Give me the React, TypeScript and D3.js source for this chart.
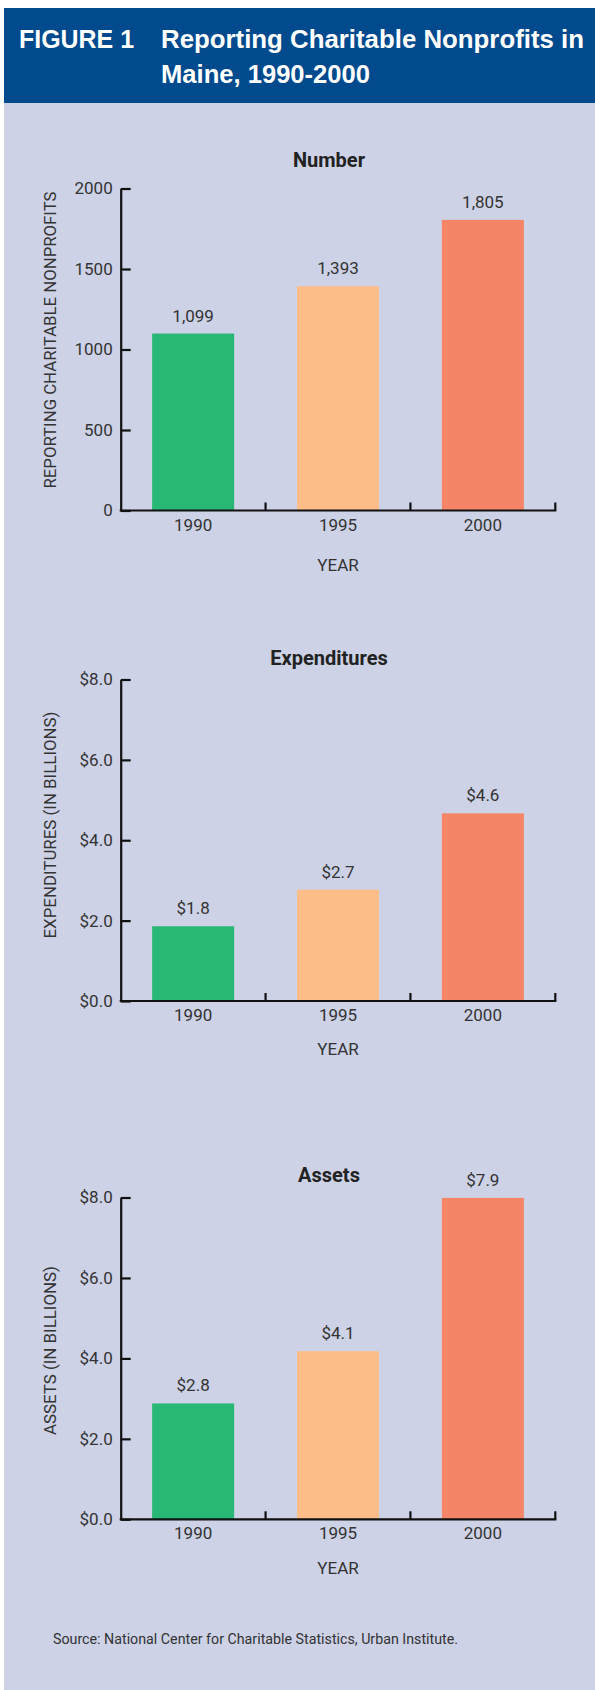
import * as d3 from 'd3';
import React, { FC, useEffect, useRef } from 'react';

const years = ['1990', '1995', '2000'];

const numberValues = [1099, 1393, 1805];
const numberLabels = ['1,099', '1,393', '1,805'];
const numberTicks = [0, 500, 1000, 1500, 2000];

const expenditureValues = [1.86, 2.77, 4.67];
const expenditureLabels = ['$1.8', '$2.7', '$4.6'];

const assetValues = [2.88, 4.18, 7.99];
const assetLabels = ['$2.8', '$4.1', '$7.9'];

const dollarTicks = [0, 2, 4, 6, 8];

const barColors = ['#28b774', '#fcbd88', '#f48667'];

const WIDTH = 595;
const HEIGHT = 1690;
const TEXT = '#333333';
const FONT = 'Roboto, "Liberation Sans", sans-serif';
const NARROW = '"Liberation Sans Narrow", "Arial Narrow", "Liberation Sans", sans-serif';

interface Panel {
  title: string;
  titleY: number;
  yLabel: string;
  yLabelLength: number;
  yLabelCenter: number;
  top: number;
  bottom: number;
  yearY: number;
  values: number[];
  labels: string[];
  ticks: number[];
  tickFormat: (d: number) => string;
}

const panels: Panel[] = [
  {
    title: 'Number',
    titleY: 167,
    yLabel: 'REPORTING CHARITABLE NONPROFITS',
    yLabelLength: 297,
    yLabelCenter: 340,
    top: 188.5,
    bottom: 510.5,
    yearY: 571,
    values: numberValues,
    labels: numberLabels,
    ticks: numberTicks,
    tickFormat: (d) => `${d}`
  },
  {
    title: 'Expenditures',
    titleY: 665,
    yLabel: 'EXPENDITURES (IN BILLIONS)',
    yLabelLength: 227,
    yLabelCenter: 825,
    top: 679.5,
    bottom: 1001,
    yearY: 1055,
    values: expenditureValues,
    labels: expenditureLabels,
    ticks: dollarTicks,
    tickFormat: (d) => `$${d.toFixed(1)}`
  },
  {
    title: 'Assets',
    titleY: 1182,
    yLabel: 'ASSETS (IN BILLIONS)',
    yLabelLength: 169,
    yLabelCenter: 1350.5,
    top: 1197.5,
    bottom: 1519.3,
    yearY: 1573.5,
    values: assetValues,
    labels: assetLabels,
    ticks: dollarTicks,
    tickFormat: (d) => `$${d.toFixed(1)}`
  }
];

const App: FC = (): JSX.Element => {
  const ref = useRef<SVGSVGElement>(null);

  useEffect(() => {
    document.body.style.margin = '0';
    const svg = d3.select(ref.current);
    svg.selectAll('*').remove();

    // background panel + header band
    svg.append('rect').attr('width', WIDTH).attr('height', HEIGHT).attr('fill', '#ffffff');
    svg
      .append('rect')
      .attr('x', 4)
      .attr('y', 8)
      .attr('width', WIDTH - 4)
      .attr('height', HEIGHT - 8)
      .attr('fill', '#cdd2e7');
    svg
      .append('rect')
      .attr('x', 4)
      .attr('y', 8)
      .attr('width', WIDTH - 4)
      .attr('height', 95)
      .attr('fill', '#004a8d');

    const header = svg
      .append('g')
      .attr('fill', '#ffffff')
      .attr('font-family', NARROW)
      .attr('font-weight', 'bold')
      .attr('font-size', 25);
    header
      .append('text')
      .attr('x', 19)
      .attr('y', 48)
      .attr('textLength', 115)
      .attr('lengthAdjust', 'spacingAndGlyphs')
      .text('FIGURE 1');
    header
      .append('text')
      .attr('x', 161)
      .attr('y', 48)
      .attr('textLength', 423)
      .attr('lengthAdjust', 'spacingAndGlyphs')
      .text('Reporting Charitable Nonprofits in');
    header
      .append('text')
      .attr('x', 161)
      .attr('y', 83)
      .attr('textLength', 209)
      .attr('lengthAdjust', 'spacingAndGlyphs')
      .text('Maine, 1990-2000');

    const x = d3
      .scaleBand<string>()
      .domain(years)
      .range([120.7, 555.3])
      .paddingInner(0.434)
      .paddingOuter(0.217);

    const color = d3.scaleOrdinal<string, string>().domain(years).range(barColors);

    panels.forEach((p) => {
      const y = d3
        .scaleLinear()
        .domain([p.ticks[0], p.ticks[p.ticks.length - 1]])
        .range([p.bottom, p.top]);

      const g = svg.append('g');

      g.append('text')
        .attr('x', 329)
        .attr('y', p.titleY)
        .attr('text-anchor', 'middle')
        .attr('font-family', FONT)
        .attr('font-weight', 'bold')
        .attr('font-size', 20)
        .attr('fill', '#222')
        .text(p.title);

      g.append('text')
        .attr('transform', `translate(56, ${p.yLabelCenter}) rotate(-90)`)
        .attr('text-anchor', 'middle')
        .attr('font-family', FONT)
        .attr('font-size', 17)
        .attr('fill', TEXT)
        .attr('textLength', p.yLabelLength)
        .attr('lengthAdjust', 'spacingAndGlyphs')
        .text(p.yLabel);

      // bars
      g.selectAll('.bar')
        .data(p.values)
        .enter()
        .append('rect')
        .attr('class', 'bar')
        .attr('x', (_, i) => x(years[i]))
        .attr('width', x.bandwidth())
        .attr('y', (d) => y(d))
        .attr('height', (d) => y(0) - y(d))
        .attr('fill', (_, i) => color(years[i]));

      g.selectAll('.value')
        .data(p.labels)
        .enter()
        .append('text')
        .attr('class', 'value')
        .attr('x', (_, i) => x(years[i]) + x.bandwidth() / 2)
        .attr('y', (_, i) => y(p.values[i]) - 12)
        .attr('text-anchor', 'middle')
        .attr('font-family', FONT)
        .attr('font-size', 17)
        .attr('fill', TEXT)
        .text((d) => d);

      // y axis, ticks pointing inward
      const yAxis = g
        .append('g')
        .attr('transform', 'translate(120.7, 0)')
        .call(
          d3
            .axisLeft(y)
            .tickValues(p.ticks)
            .tickFormat(p.tickFormat)
            .tickSizeInner(-10)
            .tickSizeOuter(0)
            .tickPadding(8)
        );
      yAxis.select('.domain').attr('stroke', '#111').attr('stroke-width', 2.2);
      yAxis.selectAll('.tick line').attr('stroke', '#111').attr('stroke-width', 2.2);
      yAxis
        .selectAll('.tick text')
        .attr('font-family', FONT)
        .attr('font-size', 17)
        .attr('fill', TEXT);

      // x axis line with boundary ticks
      const xAxis = g
        .append('g')
        .attr('transform', `translate(0, ${p.bottom})`)
        .call(d3.axisBottom(x).tickSize(0).tickPadding(8));
      xAxis.select('.domain').remove();
      xAxis
        .selectAll('.tick text')
        .attr('font-family', FONT)
        .attr('font-size', 17)
        .attr('fill', TEXT);

      const [x0, x1] = x.range();
      xAxis
        .append('line')
        .attr('x1', x0 - 1)
        .attr('x2', x1 + 1)
        .attr('stroke', '#111')
        .attr('stroke-width', 2.2);
      xAxis
        .selectAll('.bound')
        .data(d3.range(1, years.length + 1))
        .enter()
        .append('line')
        .attr('class', 'bound')
        .attr('x1', (i) => x0 + i * x.step())
        .attr('x2', (i) => x0 + i * x.step())
        .attr('y1', 0)
        .attr('y2', -8)
        .attr('stroke', '#111')
        .attr('stroke-width', 2.2);

      g.append('text')
        .attr('x', 338)
        .attr('y', p.yearY)
        .attr('text-anchor', 'middle')
        .attr('font-family', FONT)
        .attr('font-size', 17)
        .attr('fill', TEXT)
        .text('YEAR');
    });

    svg
      .append('text')
      .attr('x', 53)
      .attr('y', 1644)
      .attr('font-family', FONT)
      .attr('font-size', 15)
      .attr('fill', TEXT)
      .attr('textLength', 405)
      .attr('lengthAdjust', 'spacingAndGlyphs')
      .text('Source: National Center for Charitable Statistics, Urban Institute.');
  }, []);

  return <svg ref={ref} width={WIDTH} height={HEIGHT} style={{ display: 'block' }} />;
};

export default App;
